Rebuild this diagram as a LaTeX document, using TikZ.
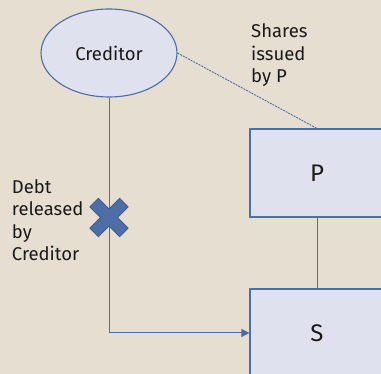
\documentclass[tikz,border=0pt]{standalone}
\usepackage{fontspec}
\setmainfont{Fira Sans}
\usetikzlibrary{shapes.geometric,arrows.meta}
\definecolor{bg}{HTML}{E6DED1}
\definecolor{boxfill}{HTML}{E0E1EE}
\definecolor{boxline}{HTML}{4A6EA6}
\definecolor{crossfill}{HTML}{4F6EA8}
\definecolor{crossline}{HTML}{3C5C94}
\definecolor{txt}{HTML}{1A1A1A}
\tikzset{
  entity/.style={draw=boxline, fill=boxfill, line width=1.1pt, minimum width=134pt, minimum height=88pt, inner sep=0pt, text=txt, font=\fontsize{24}{28}\selectfont},
  oval/.style={ellipse, draw=boxline, fill=boxfill, line width=1.1pt, minimum width=136pt, minimum height=88pt, inner sep=0pt, text=txt, font=\fontsize{18.5}{22}\selectfont},
  link/.style={draw=boxline, line width=1pt},
  dotlink/.style={draw=boxline, line width=0.9pt, dash pattern=on 2pt off 1pt},
  lbl/.style={align=left, inner sep=0pt, text=txt, font=\fontsize{18.5}{22.4}\selectfont},
}
\begin{document}
\begin{tikzpicture}[x=1pt,y=-1pt]
\fill[bg] (0,0) rectangle (381,374);
\useasboundingbox (0,0) rectangle (381,374);
\node[oval] (cred) at (109,53) {Creditor};
\node[entity] (P) at (317,173) {P};
\node[entity] (S) at (317,333) {S};
\draw[link] (P.south) -- (S.north);
\draw[dotlink] (cred.east) -- (P.north);
\draw[link, -{Triangle[length=8pt,width=8pt]}] (cred.south) |- (S.west);
\coordinate (xmark) at (109,217.5);
\filldraw[fill=crossfill, draw=crossline, line width=0.8pt, shift={(xmark)}, rotate=45]
  (21,6) -- (6,6) -- (6,21) -- (-6,21) -- (-6,6) -- (-21,6) -- (-21,-6) -- (-6,-6) -- (-6,-21) -- (6,-21) -- (6,-6) -- (21,-6) -- cycle;
\node[lbl, anchor=base west] (shares) at (251,82.5) {Shares\\issued\\by P};
\node[lbl, anchor=base west] (debt) at (11.7,260.5) {Debt\\released\\by\\Creditor};
\end{tikzpicture}
\end{document}
